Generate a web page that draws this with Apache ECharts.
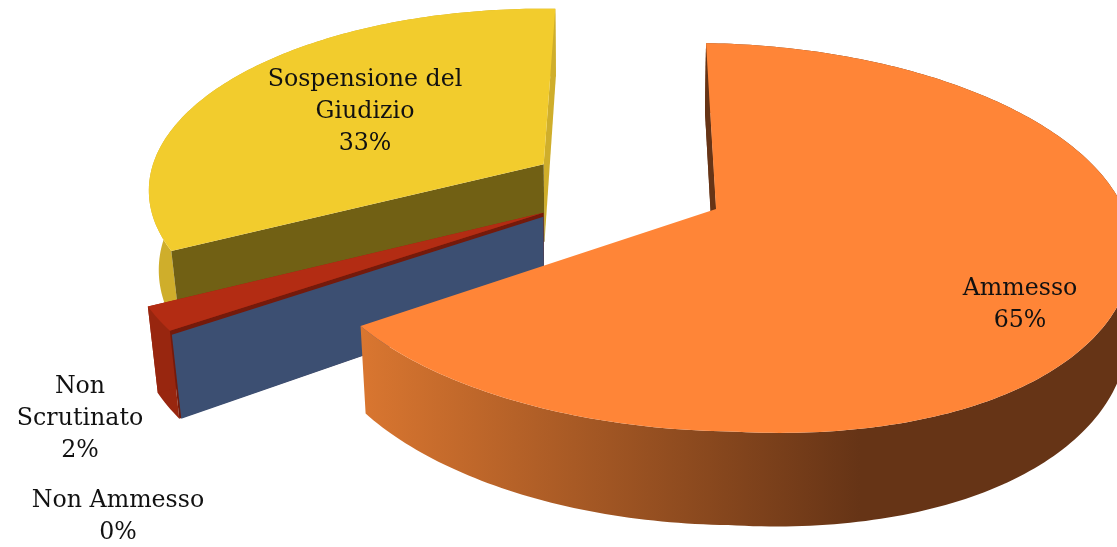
<!DOCTYPE html>
<html>
<head>
<meta charset="utf-8">
<style>html,body{margin:0;padding:0;background:#fff}#c{width:1117px;height:547px}</style>
<script src="https://cdn.jsdelivr.net/npm/echarts@6/dist/echarts.min.js"></script>
</head>
<body>
<div id="c"></div>
<script>
// Data
const categories = ['Ammesso', 'Non Ammesso', 'Non Scrutinato', 'Sospensione del Giudizio'];
const values = [65, 0, 2, 33];
const wrappedNames = ['Ammesso', 'Non Ammesso', 'Non\nScrutinato', 'Sospensione del\nGiudizio'];

// Layout & style
const paintOrder = [3, 2, 1, 0];
const cam = { cx: 716, cy: 209, a: 410, b: 190, p: 0.1457, shear: 0.06, tilt: 0.014, frontRight: 0.0002, depth: 80, vx: 580, convLeft: 0.023, convRight: 0.008 };
const explode = [[0, 0], [-0.42, -0.032], [-0.42, -0.032], [-0.428, 0.23]];
const radiusX = [1, 1, 1, 0.98];
const labelPos = [[1020, 305], [118, 517], [80, 419], [365, 112]];
const colors = [
  { top: '#FF8537', wall: null, cut: '#663416' },
  { top: '#3C4F72', wall: '#3C4F72', cut: '#3C4F72' },
  { top: '#B32C13', wall: '#98260F', cut: '#741A0B' },
  { top: '#F2CC2D', wall: '#CFAE2B', cut: '#716014' }
];

const total = values.reduce((s, v) => s + v, 0);
function sliceAngles(i) {
  let start = 0;
  for (let k = 0; k < i; k++) start += values[k] / total * 360;
  return [start, start + values[i] / total * 360];
}
function project(X, Y, lower) {
  const s = 1 / (1 + cam.p * Y);
  const sx = cam.a * X * s;
  const sy = -cam.b * Y * s;
  let x = cam.cx + sx + cam.shear * sy;
  let y = cam.cy + sy + cam.tilt * sx + cam.frontRight * Math.max(0, sx) * Math.max(0, sy);
  if (lower) {
    y += cam.depth * s;
    x = cam.vx + (x - cam.vx) * (1 - (x < cam.vx ? cam.convLeft : cam.convRight));
  }
  return [x, y];
}
function rimPoint(i, deg, lower) {
  const t = deg * Math.PI / 180;
  return project(explode[i][0] + radiusX[i] * Math.sin(t), explode[i][1] + Math.cos(t), lower);
}
function apex(i, lower) { return project(explode[i][0], explode[i][1], lower); }
function arc(i, a0, a1, lower) {
  const pts = [];
  const n = Math.max(2, Math.ceil(Math.abs(a1 - a0)));
  for (let k = 0; k <= n; k++) pts.push(rimPoint(i, a0 + (a1 - a0) * k / n, lower));
  return pts;
}
function poly(points, fill) {
  return { type: 'polygon', shape: { points }, style: { fill, stroke: null } };
}
function cutFace(i, deg) {
  return [apex(i, false), rimPoint(i, deg, false), rimPoint(i, deg, true), apex(i, true)];
}
function renderItem(params, api) {
  const i = api.value(0);
  const [a0, a1] = sliceAngles(i);
  const col = colors[i];
  const children = [];
  if (values[i] > 0) {
    const wallPts = arc(i, a0, a1, false).concat(arc(i, a1, a0, true));
    const wallFill = col.wall || new echarts.graphic.LinearGradient(362, 0, 860, 0, [
      { offset: 0, color: '#D97630' }, { offset: 1, color: '#663416' }
    ], true);
    children.push(poly(wallPts, wallFill));
    children.push(poly(cutFace(i, i === 0 ? a0 : a1), col.wall ? col.wall : col.cut));
    children.push(poly(cutFace(i, a0), col.cut));
    children.push(poly([apex(i, false)].concat(arc(i, a0, a1, false)), col.top));
  } else {
    // A zero-share slice shows only its flat cut face
    const f = cutFace(i, a0).map((p, k) => [p[0] + (k === 0 || k === 3 ? 0 : 2), p[1] + (k < 2 ? 4 : 0)]);
    children.push(poly(f, col.cut));
  }
  const text = wrappedNames[i] + '\n' + api.value(1) + '%';
  children.push({
    type: 'text', z2: 10,
    style: {
      text, x: labelPos[i][0], y: labelPos[i][1], align: 'center', verticalAlign: 'middle',
      font: '23.7px "DejaVu Serif"', lineHeight: 32, fill: '#111'
    }
  });
  return { type: 'group', children };
}
const chart = echarts.init(document.getElementById('c'), null, { renderer: 'canvas' });
chart.setOption({
  animation: false,
  series: [{
    type: 'custom', coordinateSystem: 'none', silent: true,
    renderItem,
    data: paintOrder.map(i => [i, values[i], categories[i]])
  }]
});
</script>
</body>
</html>
